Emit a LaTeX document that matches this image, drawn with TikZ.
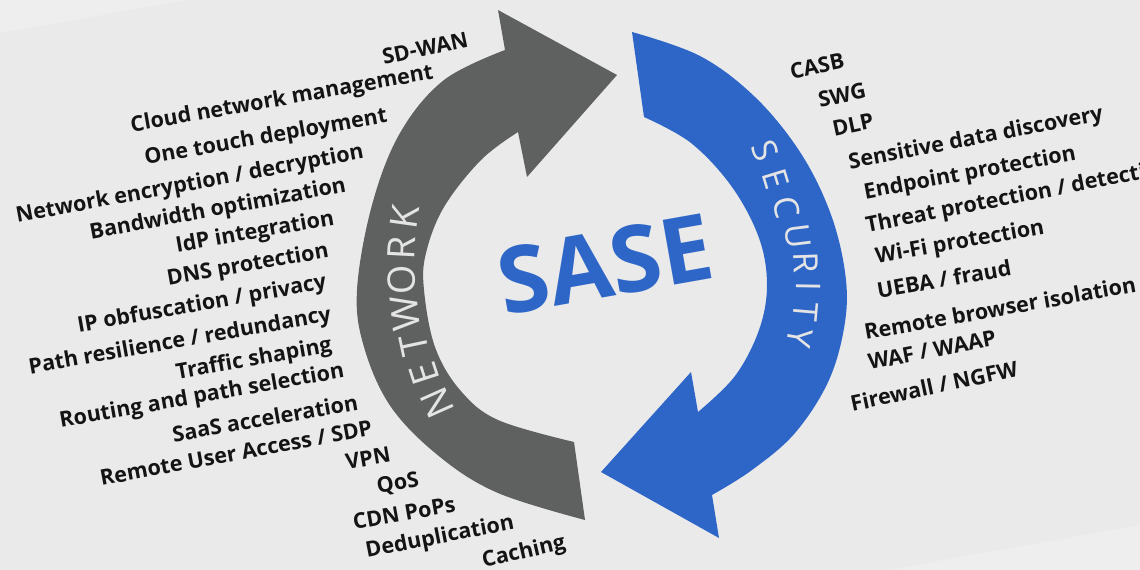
\documentclass[tikz,border=0pt]{standalone}
\usepackage{fontspec}
\setmainfont{Open Sans}
\definecolor{bgmain}{HTML}{EAEAEA}
\definecolor{bglight}{HTML}{EEEEEE}
\definecolor{netgray}{HTML}{5F6060}
\definecolor{secblue}{HTML}{2E66C8}
\definecolor{ink}{HTML}{141414}
\definecolor{bandtext}{HTML}{E4E4E4}
\begin{document}
\begin{tikzpicture}[x=1pt,y=-1pt,
  lab/.style={font=\fontsize{21.5}{24}\selectfont\bfseries, text=ink, inner sep=0pt},
  netletter/.style={font=\fontsize{38}{40}\selectfont, text=bandtext, inner sep=0pt},
  secletter/.style={font=\fontsize{34}{36}\selectfont, text=bandtext, inner sep=0pt}]
\useasboundingbox (0,0) rectangle (1140,570);
\clip (0,0) rectangle (1140,570);
% backdrop
\fill[bgmain] (0,0) rectangle (1140,570);
\fill[bglight] (0,0) -- (187,0) -- (0,33) -- cycle;
\fill[bglight] (887,570) -- (1140,525) -- (1140,570) -- cycle;

% grey NETWORK arrow
\fill[netgray] (585,520)
  -- plot[smooth, tension=0.6] coordinates {(585,520) (498,493) (440,457) (391,407) (364,347) (357,290) (372,205) (400,133) (444,80) (505,50)}
  -- (498,10) -- (617,75) -- (527,177) -- (518,132)
  -- plot[smooth, tension=0.6] coordinates {(518,132) (481,160) (444,207) (426,253) (424,290) (435,347) (460,390) (498,420) (574,442)}
  -- cycle;

% blue SECURITY arrow
\fill[secblue] (632,32)
  -- plot[smooth, tension=0.6] coordinates {(632,32) (700,56) (755,97) (800,152) (830,212) (845,272) (845,322) (829,380) (795,433) (752,470) (712,495)}
  -- (719,538) -- (601,472) -- (691,372) -- (698,412)
  -- plot[smooth, tension=0.6] coordinates {(698,412) (735,376) (759,330) (767,285) (759,238) (732,187) (691,143) (644,117)}
  -- cycle;

% band lettering
\node[netletter, rotate=114] (nN) at (437,403) {N};
\node[netletter, rotate=108] (nE) at (424,374) {E};
\node[netletter, rotate=102] (nT) at (414,345) {T};
\node[netletter, rotate=96]  (nW) at (405,313) {W};
\node[netletter, rotate=91]  (nO) at (402,280) {O};
\node[netletter, rotate=87]  (nR) at (402,248) {R};
\node[netletter, rotate=82]  (nK) at (405,217) {K};

\node[secletter, rotate=-68] (sS) at (765,151) {S};
\node[secletter, rotate=-73] (sE) at (776,179) {E};
\node[secletter, rotate=-78] (sC) at (787,207) {C};
\node[secletter, rotate=-83] (sU) at (798,236) {U};
\node[secletter, rotate=-88] (sR) at (806,263) {R};
\node[secletter, rotate=-91] (sI) at (809,286) {I};
\node[secletter, rotate=-95] (sT) at (806,312) {T};
\node[secletter, rotate=-100] (sY) at (800,338) {Y};

% title
\node[font=\fontsize{92}{96}\selectfont\bfseries, text=secblue, rotate=10, inner sep=0pt] (sase) at (605,264) {SASE};

% network capabilities
\node[lab, rotate=12]   (sdwan)   at (425,48)  {SD-WAN};
\node[lab, rotate=10]   (cloud)   at (282,100) {Cloud network management};
\node[lab, rotate=10]   (touch)   at (266,138) {One touch deployment};
\node[lab, rotate=10.5] (encr)    at (190,185) {Network encryption / decryption};
\node[lab, rotate=10.5] (bw)      at (218,210) {Bandwidth optimization};
\node[lab, rotate=10]   (idp)     at (255,233) {IdP integration};
\node[lab, rotate=10]   (dns)     at (248,266) {DNS protection};
\node[lab, rotate=10]   (ipob)    at (202,305) {IP obfuscation / privacy};
\node[lab, rotate=10]   (path)    at (180,342) {Path resilience / redundancy};
\node[lab, rotate=10]   (traffic) at (254,360) {Traffic shaping};
\node[lab, rotate=10]   (routing) at (202,397) {Routing and path selection};
\node[lab, rotate=10]   (saas)    at (265,418) {SaaS acceleration};
\node[lab, rotate=10.5] (rua)     at (236,453) {Remote User Access / SDP};
\node[lab, rotate=10]   (vpn)     at (368,458) {VPN};
\node[lab, rotate=10]   (qos)     at (398,484) {QoS};
\node[lab, rotate=10]   (cdn)     at (404,513) {CDN PoPs};
\node[lab, rotate=11]   (dedup)   at (440,538) {Deduplication};
\node[lab, rotate=13]   (caching) at (524,553) {Caching};

% security capabilities
\node[lab, rotate=12]   (casb)    at (817,66)  {CASB};
\node[lab, rotate=12]   (swg)     at (842,95)  {SWG};
\node[lab, rotate=12]   (dlp)     at (853,125) {DLP};
\node[lab, rotate=11]   (sens)    at (976,139) {Sensitive data discovery};
\node[lab, rotate=10.5] (endp)    at (970,174) {Endpoint protection};
\node[lab, rotate=11, anchor=west] (threat) at (866,227) {Threat protection / detection};
\node[lab, rotate=10]   (wifi)    at (960,243) {Wi-Fi protection};
\node[lab, rotate=10]   (ueba)    at (944,279) {UEBA / fraud};
\node[lab, rotate=10]   (rbi)     at (1000,308) {Remote browser isolation};
\node[lab, rotate=11]   (waf)     at (932,350) {WAF / WAAP};
\node[lab, rotate=12]   (fw)      at (934,386) {Firewall / NGFW};
\end{tikzpicture}
\end{document}
